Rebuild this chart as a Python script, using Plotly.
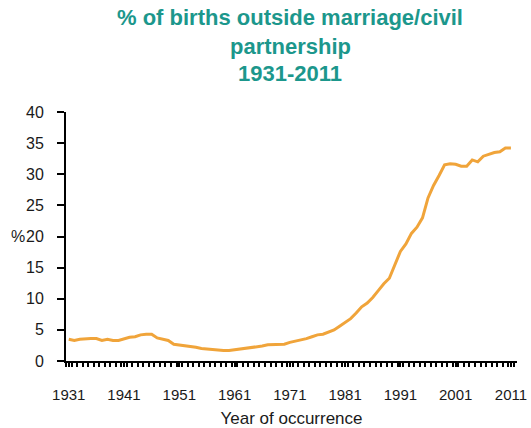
import plotly.graph_objects as go

years = list(range(1931, 2012))
pct_outside = [
    3.5, 3.3, 3.5, 3.6, 3.6, 3.6, 3.3, 3.5, 3.3, 3.3,   # 1931-1940
    3.6, 3.8, 3.9, 4.2, 4.3, 4.3, 3.7, 3.5, 3.3, 2.7,   # 1941-1950
    2.6, 2.5, 2.3, 2.2, 2.0, 1.9, 1.8, 1.7, 1.7, 1.7,   # 1951-1960
    1.8, 2.0, 2.0, 2.1, 2.3, 2.4, 2.6, 2.6, 2.6, 2.7,   # 1961-1970
    3.0, 3.2, 3.3, 3.6, 3.9, 4.2, 4.3, 4.7, 5.0, 5.6,   # 1971-1980
    6.2, 6.8, 7.7, 8.7, 9.3, 10.2, 11.3, 12.4, 13.3, 15.3,  # 1981-1990
    17.6, 18.8, 20.5, 21.5, 23.0, 26.2, 28.2, 29.8, 31.5, 31.7,  # 1991-2000
    31.6, 31.3, 31.3, 32.3, 32.0, 32.9, 33.2, 33.5, 33.6, 34.2,  # 2001-2010
    34.2,  # 2011
]
x_tick_vals = [1931, 1941, 1951, 1961, 1971, 1981, 1991, 2001, 2011]
x_tick_text = [str(v) for v in x_tick_vals]
y_tick_vals = [0, 5, 10, 15, 20, 25, 30, 35, 40]

title_lines = ["% of births outside marriage/civil", "partnership", "1931-2011"]

FONT = "Liberation Sans, Arial, sans-serif"
TEAL = "#1c978c"
ORANGE = "#f0a43a"
TXT = "#1a1a1a"

fig = go.Figure()
fig.add_trace(go.Scatter(
    x=years, y=pct_outside, mode="lines",
    line=dict(color=ORANGE, width=3),
    hoverinfo="x+y", showlegend=False,
))

W, H = 531, 428
ml, mr, mt, mb = 66, 14, 112, 67

fig.update_layout(
    width=W, height=H,
    margin=dict(l=ml, r=mr, t=mt, b=mb),
    paper_bgcolor="white", plot_bgcolor="white",
    font=dict(family=FONT, size=15, color=TXT),
    xaxis=dict(
        range=[1930.5, 2012.1],
        automargin=False,
        tickmode="array", tickvals=x_tick_vals, ticktext=x_tick_text,
        ticks="outside", ticklen=4, tickwidth=2, tickcolor="black",
        minor=dict(dtick=1, tick0=1930.5, ticks="outside", ticklen=4,
                   tickwidth=1.5, tickcolor="black", showgrid=False),
        showline=True, linecolor="black", linewidth=2,
        showgrid=False, zeroline=False,
        ticklabelstandoff=15,
        tickfont=dict(family=FONT, size=15, color=TXT),
        title=dict(text="Year of occurrence", standoff=12,
                   font=dict(family=FONT, size=17, color=TXT)),
    ),
    yaxis=dict(
        range=[0, 40],
        automargin=False,
        tickmode="array", tickvals=y_tick_vals,
        ticks="outside", ticklen=7, tickwidth=2, tickcolor="black",
        showline=True, linecolor="black", linewidth=2,
        showgrid=False, zeroline=False,
        ticklabelstandoff=10,
        tickfont=dict(family=FONT, size=16, color=TXT),
    ),
)

# y-axis unit label "%"
fig.add_annotation(
    text="%", x=0, xref="x domain", xanchor="right", xshift=-39,
    y=20, yref="y", yanchor="middle", showarrow=False,
    font=dict(family=FONT, size=16, color=TXT),
)

# Title lines
title_y = [18, 47, 74]
for txt, py in zip(title_lines, title_y):
    fig.add_annotation(
        text="<b>%s</b>" % txt,
        xref="paper", yref="paper",
        x=(290 - ml) / (W - ml - mr),
        y=1 + (mt - py) / (H - mt - mb),
        xanchor="center", yanchor="middle", showarrow=False,
        font=dict(family=FONT, size=22, color=TEAL),
    )

fig.write_html(
    "out.html",
    config={"displayModeBar": False},
    post_script="document.body.style.margin='0';document.body.style.overflow='hidden';",
)
